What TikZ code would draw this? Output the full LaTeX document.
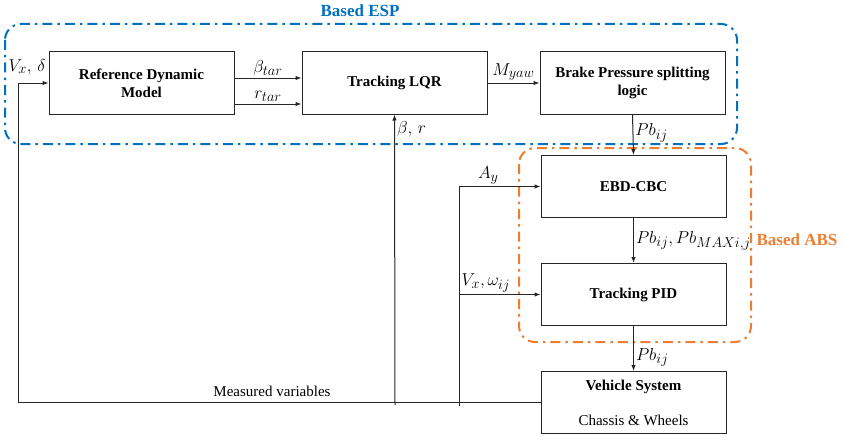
\documentclass[tikz,border=0pt]{standalone}
\usepackage{fontspec}
\setmainfont{Liberation Serif}
\newfontfamily\tnr{Liberation Serif}
\usetikzlibrary{arrows.meta}

\definecolor{espblue}{RGB}{0,112,192}
\definecolor{absorange}{RGB}{237,125,49}

\tikzset{
blk/.style={draw=black!85, line width=1pt, minimum width=185pt, minimum height=62pt,
  align=center, inner sep=2pt, font=\tnr\fontsize{15}{18}\selectfont\bfseries},
sig/.style={-{Latex[length=6pt,width=4.5pt]}, line width=1pt, draw=black!85},
lbl/.style={font=\fontsize{19}{21}\selectfont, inner sep=2pt},
zone/.style={line width=2pt, rounded corners=16pt,
  dash pattern=on 10pt off 5pt on 2.5pt off 5pt},
}

\begin{document}
\begin{tikzpicture}[x=1pt,y=-1pt]

\useasboundingbox (0,0) rectangle (843,436);

% Based ESP
\draw[zone, espblue] (5,24) rectangle (737,144);
\node[espblue, font=\tnr\fontsize{17}{19}\selectfont\bfseries] (esp) at (360,11) {Based ESP};

% Based ABS
\draw[zone, absorange] (519,148) rectangle (751,342);
\node[absorange, font=\tnr\fontsize{17}{19}\selectfont\bfseries] (abs) at (797,240) {Based ABS};

% blocks
\node[blk] (rdm) at (141.5,83) {Reference Dynamic\\Model};
\node[blk] (lqr) at (394.5,83) {Tracking LQR};
\node[blk] (bpl) at (632.5,83) {Brake Pressure splitting\\logic};
\node[blk] (ebd) at (633.5,186.5) {EBD-CBC};
\node[blk] (pid) at (633.5,294.5) {Tracking PID};
\node[blk] (veh) at (633.5,402.5) {Vehicle System\\[17pt]\mdseries Chassis \& Wheels};

% feedback
\coordinate (mvl) at (18,402.5);
\coordinate (mvt) at (18,83);
\coordinate (brb) at (395,405);
\coordinate (ayb) at (459,406);
\coordinate (vwl) at (459,294.5);

\draw[sig] (veh.west) -- (mvl) -- (mvt) -- (rdm.west);
\node[lbl] (vxd) at (27,67) {$V_x,\,\delta$};
\node[font=\tnr\fontsize{15}{18}\selectfont] (mvar) at (272,391) {Measured variables};

\draw[sig] (brb) -- (lqr.south) node[lbl, pos=0.95, right] {$\beta,\,r$};
\draw[sig] (ayb) |- (ebd.west) node[lbl, pos=0.68, above] {$A_y$};
\draw[sig] (vwl) -- (pid.west) node[lbl, pos=0.33, above] {$V_x,\omega_{ij}$};

% forward path
\draw[sig] (rdm.east |- 0,78) -- (lqr.west |- 0,78) node[lbl, midway, above] {$\beta_{tar}$};
\draw[sig] (rdm.east |- 0,104) -- (lqr.west |- 0,104) node[lbl, midway, above] {$r_{tar}$};
\draw[sig] (lqr.east) -- (bpl.west) node[lbl, midway, above] {$M_{yaw}$};
\draw[sig] (bpl.south) -- (ebd.north) node[lbl, pos=0.45, right] {$Pb_{ij}$};
\draw[sig] (ebd.south) -- (pid.north) node[lbl, midway, right] {$Pb_{ij},Pb_{MAXi,j}$};
\draw[sig] (pid.south) -- (veh.north) node[lbl, pos=0.7, right] {$Pb_{ij}$};

\end{tikzpicture}
\end{document}
